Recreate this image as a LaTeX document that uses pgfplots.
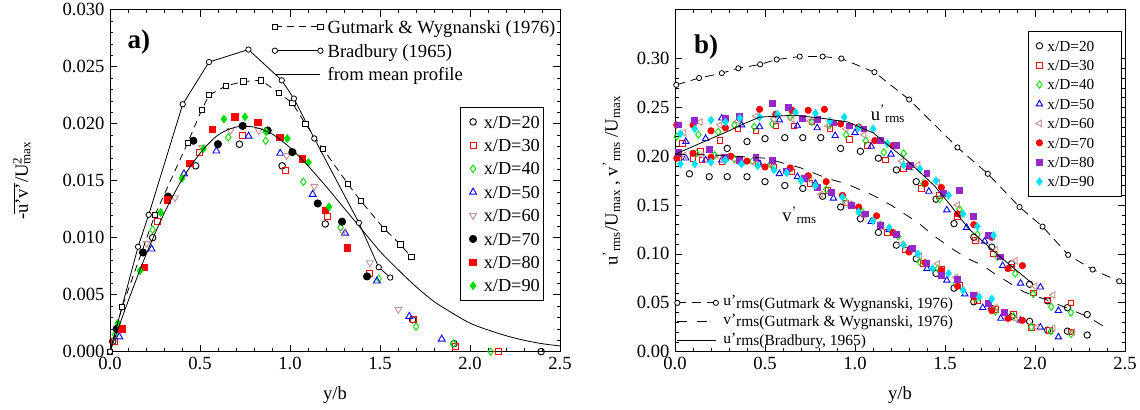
\documentclass[border=0pt]{standalone}
\usepackage{fontspec}
\setmainfont{Liberation Serif}
\usepackage{pgfplots}
\pgfplotsset{compat=1.18}

\definecolor{dgreen}{RGB}{0,222,0}
\definecolor{rosy}{RGB}{196,144,144}
\definecolor{violet2}{RGB}{150,40,200}
\definecolor{aqua}{RGB}{0,225,245}

\newcommand\fs[1]{\fontsize{#1}{#1}\selectfont}
\newcommand\urms{u\textsuperscript{'}\textsubscript{rms}}
\newcommand\vrms{v\textsuperscript{'}\textsubscript{rms}}

\pgfplotsset{
  panel/.style={
    scale only axis, width=450pt, height=342pt,
    xmin=0, xmax=2.5, xtick={0,0.5,1,1.5,2,2.5},
    minor x tick num=4, minor y tick num=4,
    tick align=inside, major tick length=7pt, minor tick length=3.5pt,
    axis line style={line width=0.9pt},
    every tick/.style={black, line width=0.6pt},
    tick label style={font=\fs{18.6}},
    /pgf/number format/assume math mode=true,
    xticklabel style={/pgf/number format/.cd, fixed, fixed zerofill, precision=1},
    xticklabel shift=2pt, yticklabel shift=2pt,
    scaled y ticks=false,
    xlabel={y/b},
    every axis x label/.style={at={(axis description cs:0.5,-0.126)}, anchor=center, font=\fs{18.6}},
    clip=false,
  },
  overlay/.style={scale only axis, width=450pt, height=342pt, xmin=0, xmax=2.5, hide axis, clip=false},
  dot/.style={only marks, mark options={line width=0.9pt}},
}

\begin{document}
\begin{tikzpicture}

% ---------------- panel a): Reynolds shear stress ----------------
\begin{axis}[panel, at={(0pt,0pt)}, anchor=south west,
  ymin=0, ymax=0.03, ytick={0,0.005,0.01,0.015,0.02,0.025,0.03},
  yticklabel style={/pgf/number format/.cd, fixed, fixed zerofill, precision=3},
  ylabel={-\(\overline{\mbox{u'v'}}\)/U\rlap{\textsuperscript{2}}\textsubscript{max}},
  every axis y label/.style={at={(axis description cs:-0.196,0.5)}, rotate=90, anchor=center, font=\fs{18.6}},
  legend style={at={(0.965,0.716)}, anchor=north east, draw=black, fill=white, line width=0.8pt,
    font=\fs{18.3}, inner xsep=4pt, inner ysep=8.5pt, row sep=10.9pt, column sep=2pt,
    nodes={inner sep=0pt, text height=12.5pt, text depth=0pt, anchor=west}},
  legend cell align=left,
  legend image code/.code={\path[draw=none,fill=none] (-8.7pt,0pt) -- (8.7pt,0pt); \draw[#1] plot coordinates {(0pt,0pt)};},
]
\addplot[dot, black, mark=o, mark size=3.3] coordinates {
 (0.015,0.0009) (0.237,0.0100) (0.476,0.0163) (0.719,0.0182) (0.956,0.0163)
 (1.196,0.0112) (1.681,0.0028) (1.911,0.0007) (2.395,0.0000)};
\addlegendentry{x/D=20}
\addplot[dot, red, mark=square, mark size=3.0] coordinates {
 (0.025,0.0009) (0.263,0.0114) (0.498,0.0175) (0.737,0.0190) (0.974,0.0159)
 (1.209,0.0119) (1.444,0.0069) (1.685,0.0028) (1.920,0.0005) (2.159,0.0000)};
\addlegendentry{x/D=30}
\addplot[dot, dgreen, mark=diamond, mark size=3.7] coordinates {
 (0.028,0.0015) (0.237,0.0107) (0.657,0.0188) (0.865,0.0185) (1.074,0.0149)
 (1.281,0.0109) (1.493,0.0064) (1.700,0.0022) (1.907,0.0007) (2.115,0.0000)};
\addlegendentry{x/D=40}
\addplot[dot, blue, mark=triangle, mark size=4.0] coordinates {
 (0.052,0.0013) (0.231,0.0090) (0.411,0.0156) (0.591,0.0176) (0.770,0.0189)
 (0.946,0.0174) (1.126,0.0138) (1.306,0.0104) (1.483,0.0062) (1.663,0.0031) (1.843,0.0011)};
\addlegendentry{x/D=50}
\addplot[dot, rosy, mark=triangle, mark size=4.0, mark options={rotate=180, line width=0.9pt}] coordinates {
 (0.204,0.0095) (0.361,0.0135) (0.513,0.0179) (0.669,0.0194) (0.826,0.0194)
 (0.981,0.0172) (1.135,0.0145) (1.293,0.0105) (1.444,0.0078) (1.602,0.0037)};
\addlegendentry{x/D=60}
\addplot[dot, black, mark=*, mark size=3.6] coordinates {
 (0.037,0.0020) (0.183,0.0087) (0.322,0.0136) (0.463,0.0185) (0.600,0.0182)
 (0.737,0.0198) (0.876,0.0194) (1.013,0.0175) (1.154,0.0130) (1.289,0.0114) (1.428,0.0066)};
\addlegendentry{x/D=70}
\addplot[dot, red, mark=square*, mark size=3.2] coordinates {
 (0.067,0.0020) (0.191,0.0074) (0.319,0.0133) (0.444,0.0165) (0.570,0.0195)
 (0.694,0.0206) (0.822,0.0201) (0.944,0.0188) (1.070,0.0169) (1.196,0.0124) (1.320,0.0091)};
\addlegendentry{x/D=80}
\addplot[dot, dgreen, mark=diamond*, mark size=3.8] coordinates {
 (0.044,0.0025) (0.167,0.0071) (0.281,0.0122) (0.400,0.0152) (0.519,0.0178)
 (0.633,0.0204) (0.750,0.0206) (0.867,0.0193) (0.985,0.0187) (1.102,0.0166) (1.217,0.0127)};
\addlegendentry{x/D=90}
\node[font=\bfseries\fs{27}] at (axis cs:0.161,0.0272) {a)};
\end{axis}

% reference profiles of panel a)
\begin{axis}[overlay, at={(0pt,0pt)}, anchor=south west, ymin=0, ymax=0.03,
  legend style={at={(0.36,0.9687)}, anchor=north west, draw=none, fill=none, font=\fs{18.6},
    inner sep=0pt, row sep=11.25pt, column sep=4.5pt,
    nodes={inner sep=0pt, text height=12.6pt, text depth=0pt, anchor=west}},
  legend cell align=left,
  legend image code/.code={\path[draw=none,fill=none] (-2.5pt,0pt) -- (48pt,0pt); \draw[#1] plot coordinates {(0pt,0pt) (45.5pt,0pt)};},
]
\addplot[black, line width=0.8pt, dash pattern=on 7pt off 5pt, mark=square*, mark size=2.6,
  mark options={solid, fill=white, draw=black}] coordinates {
 (0.000,0.0000) (0.067,0.0039) (0.250,0.0120) (0.431,0.0183) (0.509,0.0212) (0.550,0.0225)
 (0.643,0.0233) (0.741,0.0237) (0.839,0.0238) (0.939,0.0227) (1.013,0.0218) (1.085,0.0200)
 (1.183,0.0178) (1.322,0.0147) (1.394,0.0132) (1.522,0.0108) (1.613,0.0094) (1.674,0.0083)};
\addlegendentry{Gutmark \& Wygnanski (1976)}
\addplot[black, line width=0.8pt, mark=*, mark size=2.7, mark options={fill=white, draw=black}] coordinates {
 (0.000,0.0000) (0.156,0.0092) (0.215,0.0120) (0.404,0.0217) (0.550,0.0254) (0.769,0.0265)
 (0.954,0.0238) (1.022,0.0222) (1.135,0.0187) (1.383,0.0113) (1.493,0.0074) (1.557,0.0065)};
\addlegendentry{Bradbury (1965)}
\addplot[black, line width=0.8pt, smooth] coordinates {
 (0.0,0.0000) (0.1,0.0044) (0.2,0.0085) (0.3,0.0121) (0.4,0.0151) (0.5,0.0174)
 (0.6,0.0190) (0.7,0.0197) (0.8,0.0197) (0.9,0.0191) (1.0,0.0179) (1.1,0.0163)
 (1.2,0.0145) (1.3,0.0126) (1.4,0.0107) (1.5,0.0088) (1.6,0.0072) (1.7,0.0057)
 (1.8,0.0044) (1.9,0.0034) (2.0,0.0025) (2.1,0.0019) (2.2,0.0014) (2.3,0.0010)
 (2.4,0.0007) (2.5,0.0005)};
\addlegendentry{from mean profile}
\end{axis}

% ---------------- panel b): rms velocity fluctuations ----------------
\begin{axis}[panel, at={(565pt,0pt)}, anchor=south west,
  ymin=0, ymax=0.35, ytick={0,0.05,0.1,0.15,0.2,0.25,0.3},
  yticklabel style={/pgf/number format/.cd, fixed, fixed zerofill, precision=2},
  ylabel={\urms/U\textsubscript{max} , \vrms\ /U\textsubscript{max}},
  every axis y label/.style={at={(axis description cs:-0.141,0.5)}, rotate=90, anchor=center, font=\fs{18.6}},
  legend style={at={(0.993,0.9386)}, anchor=north east, draw=black, fill=white, line width=0.8pt,
    font=\fs{15.3}, inner xsep=3pt, inner ysep=9.5pt, row sep=8.9pt, column sep=0pt,
    nodes={inner sep=0pt, text height=10.5pt, text depth=0pt, text width=71pt, anchor=west}},
  legend cell align=left,
  legend image code/.code={\path[draw=none,fill=none] (-8pt,0pt) -- (8pt,0pt); \draw[#1] plot coordinates {(0pt,0pt)};},
]
% x/D=20
\addplot[dot, black, mark=o, mark size=3.2] table {
0.29 0.208
0.40 0.215
0.50 0.218
0.61 0.219
0.71 0.219
0.81 0.219
0.92 0.208
1.03 0.205
1.13 0.198
1.23 0.186
1.34 0.174
1.45 0.156
1.55 0.131
1.66 0.117
1.76 0.107
1.87 0.090
1.97 0.069
2.07 0.052
2.18 0.045
2.29 0.038
};
\addlegendentry{x/D=20}
\addplot[dot, black, mark=o, mark size=3.2, forget plot] table {
0.08 0.182
0.19 0.179
0.29 0.179
0.40 0.179
0.50 0.174
0.61 0.170
0.71 0.167
0.82 0.159
0.92 0.148
1.03 0.136
1.13 0.122
1.23 0.109
1.34 0.095
1.45 0.080
1.55 0.065
1.66 0.051
1.76 0.044
1.87 0.036
1.97 0.031
2.07 0.022
2.18 0.021
2.29 0.017
};
% x/D=30
\addplot[dot, red, mark=square, mark size=2.8] table {
0.04 0.213
0.14 0.205
0.25 0.216
0.35 0.228
0.45 0.226
0.56 0.231
0.66 0.231
0.76 0.235
0.86 0.228
0.97 0.217
1.07 0.211
1.17 0.196
1.27 0.187
1.37 0.167
1.47 0.160
1.57 0.138
1.67 0.114
1.77 0.100
1.87 0.086
1.99 0.060
2.07 0.053
2.20 0.050
};
\addlegendentry{x/D=30}
\addplot[dot, red, mark=square, mark size=2.8, forget plot] table {
0.02 0.199
0.10 0.198
0.15 0.196
0.26 0.194
0.36 0.197
0.46 0.193
0.55 0.189
0.65 0.184
0.75 0.172
0.85 0.165
0.95 0.152
1.05 0.141
1.18 0.122
1.28 0.104
1.38 0.090
1.48 0.084
1.58 0.068
1.68 0.052
1.78 0.043
1.88 0.038
1.98 0.025
2.08 0.022
2.20 0.020
};
% x/D=40
\addplot[dot, dgreen, mark=diamond, mark size=3.6] table {
0.01 0.220
0.13 0.222
0.24 0.225
0.33 0.232
0.44 0.230
0.54 0.233
0.64 0.240
0.76 0.235
0.86 0.232
0.95 0.222
1.06 0.216
1.16 0.204
1.27 0.203
1.38 0.172
1.47 0.156
1.58 0.146
1.68 0.120
1.79 0.097
1.89 0.080
1.99 0.059
2.09 0.046
2.20 0.040
};
\addlegendentry{x/D=40}
\addplot[dot, dgreen, mark=diamond, mark size=3.6, forget plot] table {
0.02 0.203
0.12 0.203
0.22 0.201
0.33 0.197
0.43 0.195
0.53 0.192
0.63 0.185
0.73 0.177
0.84 0.166
0.94 0.156
1.04 0.143
1.14 0.130
1.24 0.118
1.36 0.092
1.46 0.085
1.56 0.070
1.67 0.055
1.78 0.041
1.88 0.036
1.98 0.025
2.09 0.021
2.20 0.018
};
% x/D=50
\addplot[dot, blue, mark=triangle, mark size=3.7] table {
0.06 0.215
0.17 0.218
0.26 0.239
0.37 0.232
0.47 0.230
0.58 0.237
0.68 0.231
0.79 0.229
0.89 0.221
1.00 0.224
1.09 0.210
1.20 0.202
1.30 0.188
1.41 0.164
1.51 0.145
1.62 0.127
1.72 0.113
1.82 0.088
1.92 0.070
2.03 0.066
2.13 0.042
};
\addlegendentry{x/D=50}
\addplot[dot, blue, mark=triangle, mark size=3.7, forget plot] table {
0.06 0.198
0.17 0.196
0.26 0.196
0.37 0.194
0.47 0.192
0.58 0.182
0.68 0.179
0.78 0.172
0.88 0.157
0.98 0.150
1.09 0.133
1.19 0.125
1.30 0.104
1.40 0.085
1.51 0.073
1.61 0.059
1.71 0.045
1.81 0.034
1.92 0.032
2.03 0.025
2.13 0.015
};
% x/D=60
\addplot[dot, rosy, mark=triangle, mark size=3.7, mark options={rotate=90, line width=0.9pt}] table {
0.05 0.224
0.14 0.235
0.25 0.232
0.35 0.236
0.45 0.241
0.55 0.238
0.65 0.238
0.75 0.236
0.85 0.231
0.95 0.228
1.05 0.222
1.15 0.216
1.26 0.195
1.35 0.191
1.46 0.173
1.57 0.150
1.68 0.115
1.78 0.104
1.89 0.093
2.00 0.067
2.10 0.058
};
\addlegendentry{x/D=60}
\addplot[dot, rosy, mark=triangle, mark size=3.7, mark options={rotate=90, line width=0.9pt}, forget plot] table {
0.05 0.201
0.15 0.201
0.25 0.199
0.35 0.195
0.45 0.192
0.54 0.192
0.64 0.187
0.75 0.176
0.81 0.161
0.95 0.152
1.05 0.140
1.15 0.128
1.26 0.110
1.36 0.098
1.46 0.090
1.56 0.076
1.67 0.058
1.78 0.045
1.89 0.034
2.01 0.025
2.10 0.024
2.21 0.020
};
% x/D=70
\addplot[dot, red, mark=*, mark size=3.1] table {
0.01 0.232
0.10 0.232
0.20 0.226
0.28 0.229
0.36 0.239
0.47 0.248
0.56 0.243
0.65 0.247
0.74 0.247
0.83 0.248
0.92 0.233
1.02 0.230
1.11 0.216
1.21 0.211
1.30 0.190
1.39 0.172
1.48 0.168
1.57 0.141
1.66 0.130
1.76 0.117
1.85 0.085
1.93 0.088
};
\addlegendentry{x/D=70}
\addplot[dot, red, mark=*, mark size=3.1, forget plot] table {
0.01 0.198
0.10 0.203
0.20 0.199
0.31 0.200
0.40 0.195
0.50 0.189
0.64 0.188
0.74 0.180
0.84 0.174
0.93 0.160
1.02 0.148
1.12 0.139
1.21 0.122
1.30 0.102
1.39 0.091
1.48 0.083
1.57 0.067
1.66 0.056
1.76 0.042
1.85 0.034
1.93 0.032
};
% x/D=80
\addplot[dot, violet2, mark=square*, mark size=2.9] table {
0.02 0.232
0.11 0.237
0.28 0.239
0.36 0.241
0.54 0.254
0.63 0.250
0.71 0.239
0.79 0.238
0.88 0.234
0.97 0.231
1.05 0.228
1.14 0.216
1.23 0.211
1.31 0.191
1.40 0.182
1.49 0.162
1.58 0.165
1.66 0.138
1.74 0.119
1.81 0.097
};
\addlegendentry{x/D=80}
\addplot[dot, violet2, mark=square*, mark size=2.9, forget plot] table {
0.02 0.204
0.19 0.207
0.28 0.199
0.36 0.196
0.45 0.199
0.54 0.196
0.62 0.185
0.72 0.177
0.79 0.168
0.87 0.163
0.98 0.150
1.06 0.141
1.14 0.129
1.23 0.120
1.32 0.106
1.40 0.090
1.48 0.078
1.57 0.074
1.66 0.058
1.74 0.049
1.83 0.040
};
% x/D=90
\addplot[dot, aqua, mark=diamond*, mark size=3.7] table {
0.03 0.223
0.11 0.228
0.20 0.237
0.28 0.235
0.36 0.239
0.47 0.240
0.57 0.243
0.67 0.245
0.78 0.244
0.86 0.236
0.94 0.240
1.02 0.229
1.10 0.228
1.18 0.213
1.27 0.191
1.36 0.187
1.45 0.175
1.52 0.160
1.60 0.141
1.68 0.128
1.77 0.119
};
\addlegendentry{x/D=90}
\addplot[dot, aqua, mark=diamond*, mark size=3.7, forget plot] table {
0.03 0.192
0.11 0.192
0.20 0.194
0.28 0.196
0.37 0.192
0.46 0.190
0.55 0.186
0.62 0.183
0.70 0.175
0.78 0.170
0.93 0.158
1.02 0.143
1.10 0.134
1.19 0.127
1.27 0.109
1.35 0.100
1.43 0.085
1.52 0.080
1.60 0.063
1.69 0.056
1.76 0.054
};
\node[font=\bfseries\fs{27}] at (axis cs:0.173,0.312) {b)};
\node[font=\fs{18.6}] at (axis cs:1.183,0.2433) {\urms};
\node[font=\fs{18.6}] at (axis cs:0.692,0.1396) {\vrms};
\end{axis}

% reference profiles of panel b)
\begin{axis}[overlay, at={(565pt,0pt)}, anchor=south west, ymin=0, ymax=0.35,
  legend style={at={(-0.001,0.1586)}, anchor=north west, draw=none, fill=none, font=\fs{15.5},
    inner sep=0pt, row sep=8.35pt, column sep=4.8pt,
    nodes={inner sep=0pt, text height=10.5pt, text depth=0pt, anchor=west}},
  legend cell align=left,
  legend image code/.code={\path[draw=none,fill=none] (-2.4pt,0pt) -- (40.9pt,0pt); \draw[#1] plot coordinates {(0pt,0pt) (38.5pt,0pt)};},
]
\addplot[black, line width=0.8pt, dash pattern=on 9pt off 6pt, mark=*, mark size=2.6,
  mark options={solid, fill=white, draw=black}] coordinates {
 (0.007,0.273) (0.134,0.280) (0.260,0.285) (0.352,0.290) (0.473,0.294) (0.565,0.299)
 (0.693,0.302) (0.820,0.302) (0.924,0.300) (1.108,0.286) (1.301,0.258) (1.569,0.209)
 (1.738,0.182) (1.914,0.148) (2.042,0.128) (2.184,0.099) (2.320,0.084) (2.468,0.072)};
\addlegendentry{\raisebox{2.5pt}{u'}rms(Gutmark \& Wygnanski, 1976)}
\addplot[black, line width=0.8pt, dash pattern=on 10pt off 10pt] coordinates {
 (0.00,0.202) (0.25,0.201) (0.50,0.198) (0.70,0.188) (0.85,0.177) (0.95,0.172)
 (1.10,0.160) (1.20,0.150) (1.35,0.132) (1.45,0.117) (1.55,0.104) (1.63,0.095)
 (1.71,0.088) (1.79,0.078) (1.87,0.069) (1.94,0.061) (2.05,0.054) (2.20,0.043)
 (2.30,0.035) (2.39,0.025)};
\addlegendentry{\raisebox{2.5pt}{v'}rms(Gutmark \& Wygnanski, 1976)}
\addplot[black, line width=0.8pt] coordinates {
 (0.00,0.202) (0.10,0.210) (0.20,0.218) (0.30,0.226) (0.38,0.233) (0.47,0.240)
 (0.66,0.242) (0.81,0.239) (0.96,0.235) (1.10,0.224) (1.20,0.209) (1.30,0.194)
 (1.44,0.170) (1.53,0.150) (1.63,0.126) (1.80,0.098) (1.99,0.069)};
\addlegendentry{\raisebox{2.5pt}{u'}rms(Bradbury, 1965)}
\end{axis}

\path (-110pt,-58pt) rectangle (1030pt,349pt);
\end{tikzpicture}
\end{document}
